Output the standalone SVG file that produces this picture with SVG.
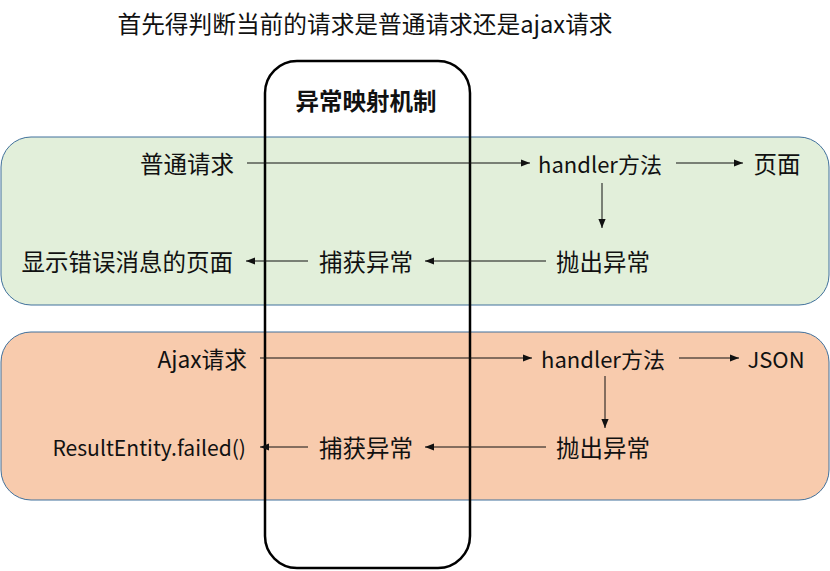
<svg xmlns="http://www.w3.org/2000/svg" width="830" height="571" viewBox="0 0 830 571">
<style>
text{font-family:"Noto Sans CJK SC","Microsoft YaHei",sans-serif;font-size:23.5px;fill:#111;dominant-baseline:central}
.m{text-anchor:middle}
.e{text-anchor:end}
.l{font-size:22px}
.c{stroke:#111;stroke-width:1;fill:none;marker-end:url(#ah)}
.band{stroke:#41719c;stroke-width:1}
</style>
<defs>
<marker id="ah" viewBox="0 0 10 10" refX="10" refY="5" markerWidth="9" markerHeight="9" markerUnits="userSpaceOnUse" orient="auto">
<path d="M0,1 L10,5 L0,9 z" fill="#111"/>
</marker>
</defs>
<rect width="830" height="571" fill="#fff"/>
<text id="title" class="m" x="365" y="23" style="font-size:23.7px">首先得判断当前的请求是普通请求还是ajax请求</text>
<g id="band-normal"><rect class="band" x="1" y="137" width="828" height="168" rx="30" fill="#e2efda"/></g>
<g id="band-ajax"><rect class="band" x="1" y="332" width="828" height="168" rx="30" fill="#f8cbad"/></g>
<g id="mechanism">
<rect x="265" y="61" width="205" height="507" rx="32" fill="none" stroke="#000" stroke-width="2.5"/>
<text class="m" x="366" y="100" style="font-weight:bold;font-size:23.5px">异常映射机制</text>
</g>
<g id="n-normal"><text class="e" x="234" y="163">普通请求</text></g>
<g id="n-handler1"><text class="m l" x="600" y="163">handler方法</text></g>
<g id="n-page"><text class="m" x="777" y="163">页面</text></g>
<g id="n-throw1"><text class="m" x="603" y="261">抛出异常</text></g>
<g id="n-catch1"><text class="m" x="366" y="261">捕获异常</text></g>
<g id="n-errpage"><text class="e" x="233" y="261">显示错误消息的页面</text></g>
<g id="n-ajax"><text class="e" x="247" y="358" style="font-size:22.7px">Ajax请求</text></g>
<g id="n-handler2"><text class="m l" x="603" y="358">handler方法</text></g>
<g id="n-json"><text class="m l" x="776" y="358">JSON</text></g>
<g id="n-throw2"><text class="m" x="603" y="447">抛出异常</text></g>
<g id="n-catch2"><text class="m" x="366" y="447">捕获异常</text></g>
<g id="n-result"><text class="e" x="246" y="447" style="font-size:21.1px">ResultEntity.failed()</text></g>
<g id="connectors">
<line class="c" x1="247" y1="163" x2="530" y2="163"/>
<line class="c" x1="676" y1="163" x2="743" y2="163"/>
<line class="c" x1="602" y1="183" x2="602" y2="228"/>
<line class="c" x1="546" y1="261" x2="425" y2="261"/>
<line class="c" x1="308" y1="261" x2="246" y2="261"/>
<line class="c" x1="260" y1="358" x2="532" y2="358"/>
<line class="c" x1="679" y1="358" x2="739" y2="358"/>
<line class="c" x1="605" y1="376" x2="605" y2="428"/>
<line class="c" x1="546" y1="447" x2="425" y2="447"/>
<line class="c" x1="308" y1="447" x2="260" y2="447"/>
</g>
</svg>
